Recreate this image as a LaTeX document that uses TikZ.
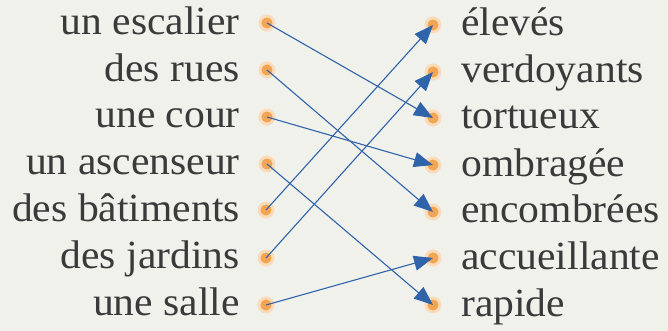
\documentclass[tikz,border=0pt]{standalone}
\usepackage{fontspec}
\setmainfont[FakeStretch=1.04]{Liberation Serif}
\usetikzlibrary{arrows.meta}
\definecolor{bg}{HTML}{F1F1EC}
\definecolor{dotc}{HTML}{F3A553}
\definecolor{lnc}{HTML}{2F63AA}
\definecolor{txt}{HTML}{3A3A3A}
\begin{document}
\begin{tikzpicture}[x=1pt,y=-1pt,
  lab/.style={font=\fontsize{40}{40}\selectfont, text=txt, inner sep=0pt},
  leftlab/.style={lab, anchor=base east},
  rightlab/.style={lab, anchor=base west},
  dotn/.style={circle, fill=dotc, minimum size=14pt, inner sep=0pt, draw=dotc!40, line width=3pt},
  conn/.style={draw=lnc, line width=1.1pt, -{Triangle[length=19pt,width=15pt]}}]
\fill[bg] (0,0) rectangle (668,331);
\useasboundingbox (0,0) rectangle (668,331);
% left labels
\node[leftlab] (t1) at (240,35) {un escalier};
\node[leftlab] (t2) at (240,82) {des rues};
\node[leftlab] (t3) at (240,128) {une cour};
\node[leftlab] (t4) at (240,175) {un ascenseur};
\node[leftlab] (t5) at (240,221) {des bâtiments};
\node[leftlab] (t6) at (240,268) {des jardins};
\node[leftlab] (t7) at (240,315) {une salle};
% right labels
\node[rightlab] (u1) at (461,36) {élevés};
\node[rightlab] (u2) at (461,83) {verdoyants};
\node[rightlab] (u3) at (461,129) {tortueux};
\node[rightlab] (u4) at (461,176) {ombragée};
\node[rightlab] (u5) at (461,222) {encombrées};
\node[rightlab] (u6) at (461,269) {accueillante};
\node[rightlab] (u7) at (461,316) {rapide};
% dots
\node[dotn] (L1) at (267,23) {};
\node[dotn] (L2) at (267,70) {};
\node[dotn] (L3) at (267,117) {};
\node[dotn] (L4) at (267,164) {};
\node[dotn] (L5) at (266,210) {};
\node[dotn] (L6) at (266,258) {};
\node[dotn] (L7) at (266,305) {};
\node[dotn] (R1) at (433,25) {};
\node[dotn] (R2) at (433,72) {};
\node[dotn] (R3) at (433,118) {};
\node[dotn] (R4) at (433,165) {};
\node[dotn] (R5) at (433,212) {};
\node[dotn] (R6) at (433,258) {};
\node[dotn] (R7) at (433,305) {};
% connectors
\draw[conn] (L1.center) -- (R3.center);
\draw[conn] (L2.center) -- (R5.center);
\draw[conn] (L3.center) -- (R4.center);
\draw[conn] (L4.center) -- (R7.center);
\draw[conn] (L5.center) -- (R1.center);
\draw[conn] (L6.center) -- (R2.center);
\draw[conn] (L7.center) -- (R6.center);
\end{tikzpicture}
\end{document}
